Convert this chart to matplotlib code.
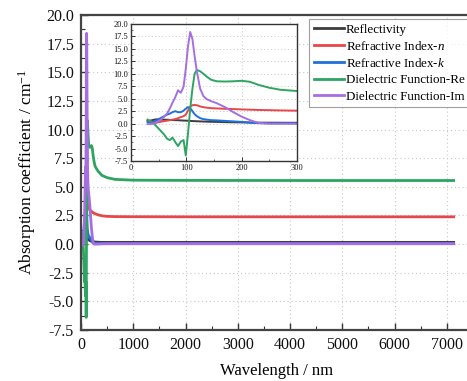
import numpy as np
import matplotlib
matplotlib.use("Agg")
import matplotlib.pyplot as plt
from matplotlib.ticker import MultipleLocator, FormatStrFormatter

plt.rcParams["font.family"] = ["Liberation Serif", "DejaVu Serif"]
plt.rcParams["mathtext.fontset"] = "custom"
plt.rcParams["mathtext.rm"] = "Liberation Serif"
plt.rcParams["mathtext.it"] = "Liberation Serif:italic"

# Wavelength grid (nm)
wavelength = [30, 35, 40, 45, 50, 55, 60, 65, 70, 75, 80, 85, 90, 95, 99,
              103, 107, 111, 115, 119, 125, 131, 137, 145, 155, 170, 185,
              200, 215, 230, 250, 270, 300, 330, 400, 500, 650, 1000, 2000,
              4000, 7130]

reflectivity = [0.55, 0.6, 0.75, 0.85, 0.85, 0.8, 0.8, 0.78, 0.75, 0.72, 0.7,
                0.68, 0.65, 0.62, 0.6, 0.58, 0.55, 0.52, 0.5, 0.48, 0.45,
                0.42, 0.4, 0.37, 0.35, 0.3, 0.27, 0.25, 0.22, 0.2, 0.19,
                0.18, 0.17, 0.16, 0.15, 0.15, 0.15, 0.15, 0.15, 0.15, 0.15]

index_n = [0.7, 0.5, 0.3, 0.15, 0.3, 0.4, 0.5, 0.6, 0.7, 0.8, 0.9, 1.1, 1.3,
           1.5, 1.8, 2.6, 3.4, 3.7, 3.75, 3.7, 3.45, 3.3, 3.2, 3.1, 3.05,
           2.98, 2.92, 2.86, 2.8, 2.75, 2.7, 2.65, 2.6, 2.55, 2.47, 2.42,
           2.4, 2.39, 2.38, 2.38, 2.38]

index_k = [0.3, 0.25, 0.35, 0.6, 0.9, 1.2, 1.5, 1.8, 2.0, 2.3, 2.5, 2.3, 2.3,
           2.6, 3.0, 3.3, 3.1, 2.5, 1.9, 1.5, 1.1, 0.9, 0.8, 0.7, 0.65,
           0.55, 0.45, 0.35, 0.2, 0.1, 0.05, 0.05, 0.05, 0.05, 0.05, 0.05,
           0.05, 0.05, 0.05, 0.05, 0.05]

dielectric_re = [0.8, 0.5, 0.1, -0.4, -1.0, -1.6, -2.2, -3.0, -3.3, -2.8,
                 -3.7, -4.5, -3.6, -3.3, -6.4, -2.0, 3.0, 7.0, 10.0, 10.8,
                 10.5, 10.0, 9.4, 8.8, 8.5, 8.45, 8.5, 8.6, 8.4, 7.8, 7.2,
                 6.8, 6.55, 6.35, 6.0, 5.8, 5.65, 5.58, 5.56, 5.55, 5.55]

dielectric_im = [-0.1, -0.1, 0.0, 0.2, 0.5, 0.9, 1.4, 2.0, 3.0, 4.2, 5.3,
                 6.7, 6.2, 7.4, 11.0, 15.5, 18.4, 17.0, 13.5, 10.5, 7.0,
                 5.5, 4.9, 4.5, 4.1, 3.3, 2.3, 1.4, 0.7, 0.15, 0.0, 0.0,
                 0.0, 0.0, 0.02, 0.03, 0.03, 0.03, 0.03, 0.03, 0.03]

series = [
    ("Reflectivity", reflectivity, "#3d3d3d"),
    ("Refractive Index-$\\it{n}$", index_n, "#e8474a"),
    ("Refractive Index-$\\it{k}$", index_k, "#1f6fdc"),
    ("Dielectric Function-Re", dielectric_re, "#2ea462"),
    ("Dielectric Function-Im", dielectric_im, "#a66ee0"),
]

W, H = 467, 381
fig = plt.figure(figsize=(W / 100, H / 100), dpi=100)

ax = fig.add_axes([81 / W, 1 - 330 / H, 392 / W, 315 / H])
for label, vals, color in series:
    ax.plot(wavelength, vals, color=color, lw=2.0, label=label)

ax.set_xlim(0, 7500)
ax.set_ylim(-7.5, 20)
ax.xaxis.set_major_locator(MultipleLocator(1000))
ax.xaxis.set_minor_locator(MultipleLocator(500))
ax.yaxis.set_major_locator(MultipleLocator(2.5))
ax.yaxis.set_minor_locator(MultipleLocator(1.25))
ax.yaxis.set_major_formatter(FormatStrFormatter("%.1f"))
ax.tick_params(which="both", direction="in", colors="#333333",
               labelcolor="#111111", labelsize=11.5, pad=5)
ax.tick_params(which="major", length=5, width=1)
ax.tick_params(which="minor", length=3, width=0.8)
ax.grid(True, which="major", ls=(0, (1, 2.5)), color="#c8c8c8", lw=0.8)
for s in ax.spines.values():
    s.set_color("#444444")
    s.set_linewidth(1.6)
ax.set_xlabel("Wavelength / nm", fontsize=12, labelpad=7)
ax.set_ylabel("Absorption coefficient / cm$^{-1}$", fontsize=12.5, labelpad=6)

leg = fig.legend(loc="upper left", bbox_to_anchor=(309 / W, 1 - 19 / H),
                 fontsize=9.4, frameon=True, fancybox=False, edgecolor="#888888",
                 handlelength=2.3, handletextpad=0.15, labelspacing=0.32,
                 borderpad=0.35, borderaxespad=0)
leg.get_frame().set_linewidth(0.8)
for line in leg.get_lines():
    line.set_linewidth(2.0)

# Inset: ultraviolet detail
ins = fig.add_axes([131 / W, 1 - 161 / H, 166 / W, 137 / H])
for label, vals, color in series:
    ins.plot(wavelength, vals, color=color, lw=1.4)
ins.set_xlim(0, 300)
ins.set_ylim(-7.5, 20)
ins.xaxis.set_major_locator(MultipleLocator(100))
ins.xaxis.set_minor_locator(MultipleLocator(50))
ins.yaxis.set_major_locator(MultipleLocator(2.5))
ins.yaxis.set_minor_locator(MultipleLocator(1.25))
ins.yaxis.set_major_formatter(FormatStrFormatter("%.1f"))
ins.tick_params(which="both", direction="in", colors="#333333",
                labelcolor="#111111", labelsize=6, pad=2)
ins.tick_params(which="major", length=3, width=0.7)
ins.tick_params(which="minor", length=1.5, width=0.5)
ins.grid(True, which="major", ls=(0, (1, 2.5)), color="#c8c8c8", lw=0.7)
for s in ins.spines.values():
    s.set_color("#333333")
    s.set_linewidth(1.0)

fig.savefig("out.png", dpi=100)
